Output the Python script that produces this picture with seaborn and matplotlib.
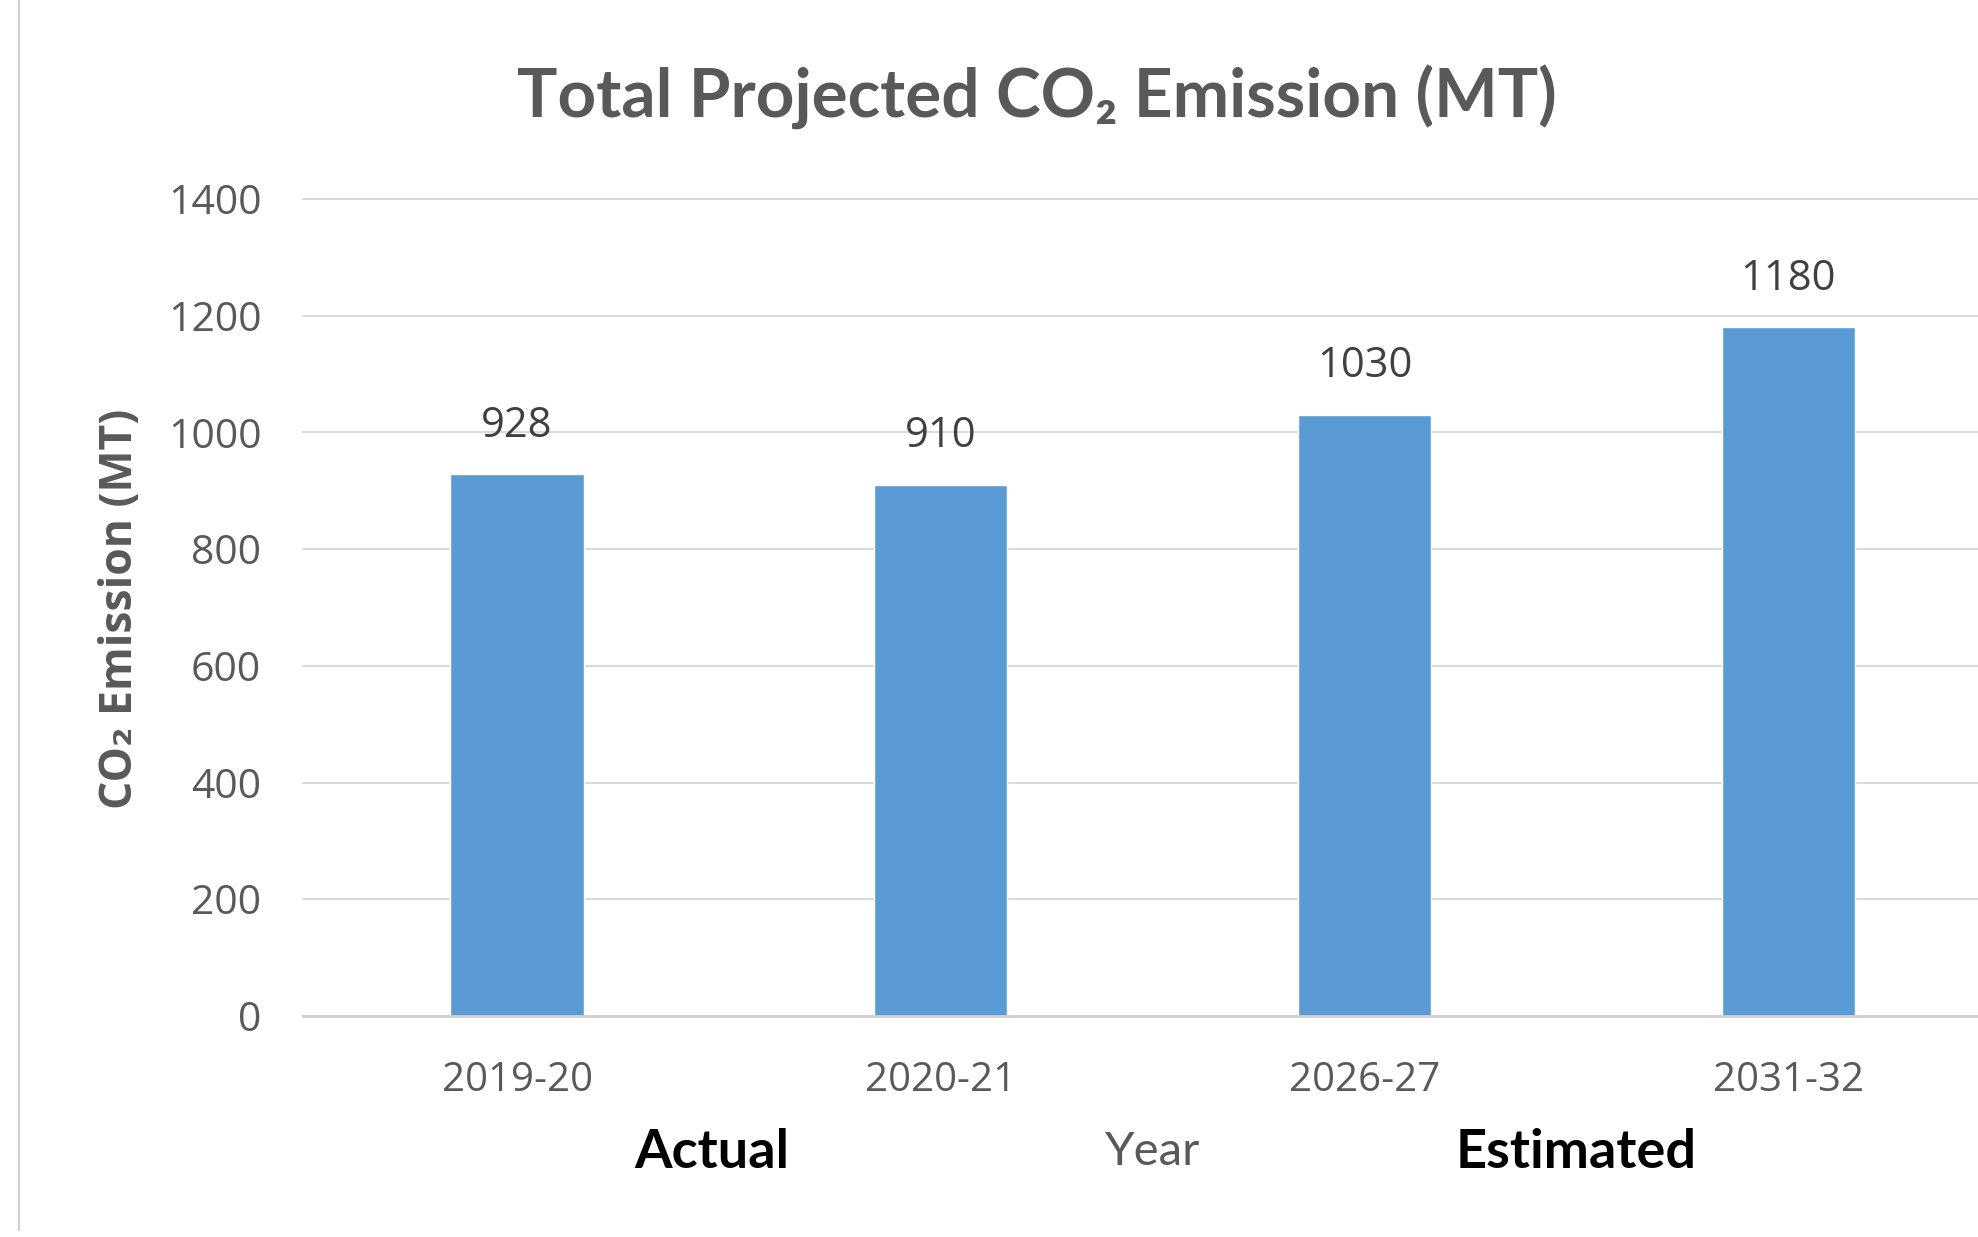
import matplotlib
matplotlib.use("Agg")
import matplotlib.pyplot as plt
import matplotlib.transforms as mtransforms
from matplotlib.lines import Line2D
import seaborn as sns
import pandas as pd

years = ["2019-20", "2020-21", "2026-27", "2031-32"]
emissions = [928, 910, 1030, 1180]
yticks = [0, 200, 400, 600, 800, 1000, 1200, 1400]
group_labels = ["Actual", "Year", "Estimated"]
group_x = [0.46, 1.5, 2.5]

sns.set_theme(style="white")
plt.rcParams['font.family'] = ['Open Sans', 'DejaVu Sans']

df = pd.DataFrame({"Year": years, "Emission": emissions})

fig = plt.figure(figsize=(19.78, 12.37), dpi=100)
ax = fig.add_axes([0.1532, 0.1787, 0.8468, 0.6604])

sns.barplot(data=df, x="Year", y="Emission", color="#5b9bd5", width=0.314,
            saturation=1, ax=ax, zorder=3)

ax.set_xlim(-0.505, 3.448)
ax.set_ylim(0, 1400)
ax.set_yticks(yticks)
ax.set_yticklabels([str(v) for v in yticks])

ax.grid(axis="y", color="#d9d9d9", lw=1.4, zorder=0)
ax.grid(axis="x", visible=False)
for gl in ax.get_ygridlines():
    gl.set_clip_on(False)
for s in ["top", "right", "left"]:
    ax.spines[s].set_visible(False)
ax.spines["bottom"].set_color("#d0d0d0")
ax.spines["bottom"].set_linewidth(2)
ax.spines["bottom"].set_zorder(4)

ax.tick_params(axis="y", length=0, pad=30, labelsize=29.5, labelcolor="#595959")
ax.tick_params(axis="x", length=0, pad=32, labelsize=29, labelcolor="#595959")
ax.set_xlabel("")
ax.set_ylabel("")

ax.bar_label(ax.containers[0], labels=[str(v) for v in emissions], padding=20,
             fontsize=30, color="#404040")

fig.text(0.524, 0.921, "Total Projected CO₂ Emission (MT)", ha="center", va="center",
         fontsize=48.5, fontweight="bold", color="#595959",
         family=["Lato", "DejaVu Sans"])

fig.text(0.0607, 0.508, "CO₂ Emission (MT)", rotation=90, ha="center", va="center",
         fontsize=32, fontweight="bold", color="#595959",
         family=["Open Sans", "DejaVu Sans"])

trans = mtransforms.blended_transform_factory(ax.transData, fig.transFigure)
ycoord = 1 - 1152 / 1237
for lab, gx in zip(group_labels, group_x):
    if lab == "Year":
        ax.text(gx, ycoord, lab, transform=trans, ha="center", va="center",
                fontsize=34, color="#595959", family=["Lato", "DejaVu Sans"])
    else:
        ax.text(gx, ycoord, lab, transform=trans, ha="center", va="center",
                fontsize=39, fontweight="bold", color="black",
                family=["Lato", "DejaVu Sans"])

fig.add_artist(Line2D([19 / 1978, 19 / 1978], [1 - 1230 / 1237, 1.0],
                      transform=fig.transFigure, color="#d0d0d0", lw=1.5))

fig.savefig("out.png", dpi=100)
